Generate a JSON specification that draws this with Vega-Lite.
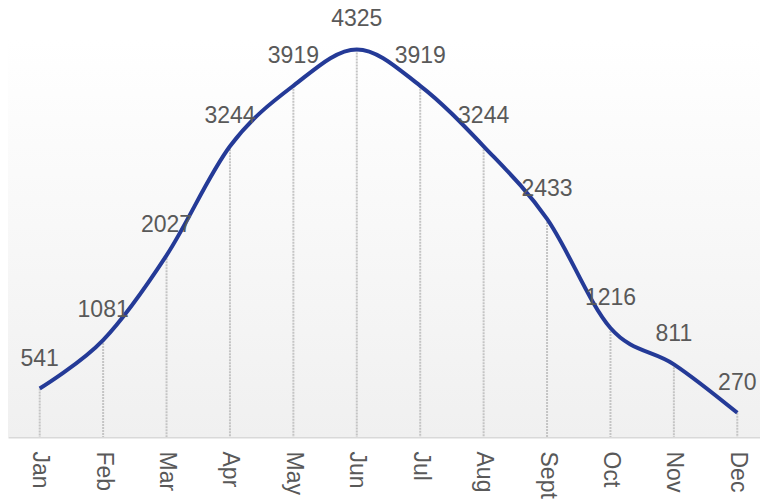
{
  "$schema": "https://vega.github.io/schema/vega-lite/v6.json",
  "width": 761,
  "height": 397,
  "autosize": {"type": "none"},
  "padding": {"left": 8, "top": 40, "right": 0, "bottom": 64},
  "background": "white",
  "config": {"view": {"stroke": null}, "font": "Liberation Sans"},
  "data": {"values": [
    {"month": "Jan", "value": 541},
    {"month": "Feb", "value": 1081},
    {"month": "Mar", "value": 2027},
    {"month": "Apr", "value": 3244},
    {"month": "May", "value": 3919},
    {"month": "Jun", "value": 4325},
    {"month": "Jul", "value": 3919},
    {"month": "Aug", "value": 3244},
    {"month": "Sept", "value": 2433},
    {"month": "Oct", "value": 1216},
    {"month": "Nov", "value": 811},
    {"month": "Dec", "value": 270}
  ]},
  "encoding": {
    "x": {"field": "month", "type": "ordinal", "sort": null,
      "scale": {"type": "point", "padding": 0.5},
      "axis": {"title": null, "labelAngle": 90, "labelFontSize": 23, "labelColor": "#595959",
        "labelPadding": 14, "ticks": false, "domainColor": "#d9d9d9", "domainWidth": 2,
        "grid": false, "labelFont": "Liberation Sans"}},
    "y": {"field": "value", "type": "quantitative",
      "scale": {"domain": [0, 4430], "nice": false},
      "axis": null}
  },
  "layer": [
    {
      "data": {"values": [{"bg": 1}]},
      "mark": {"type": "rect", "fill": {"gradient": "linear", "x1": 0, "y1": 0, "x2": 0, "y2": 1,
        "stops": [{"offset": 0, "color": "#ffffff"}, {"offset": 1, "color": "#f0f0f0"}]}},
      "encoding": {"x": null, "y": null}
    },
    {
      "mark": {"type": "rule", "color": "#c4c4c4", "strokeWidth": 2, "strokeDash": [2, 1]},
      "encoding": {"y2": {"datum": 0}}
    },
    {
      "mark": {"type": "line", "interpolate": "cardinal", "color": "#243a97", "strokeWidth": 4}
    },
    {
      "mark": {"type": "text", "fontSize": 23, "color": "#595959", "baseline": "alphabetic", "dy": -23, "align": "center"},
      "encoding": {"text": {"field": "value", "type": "quantitative"}}
    }
  ]
}
